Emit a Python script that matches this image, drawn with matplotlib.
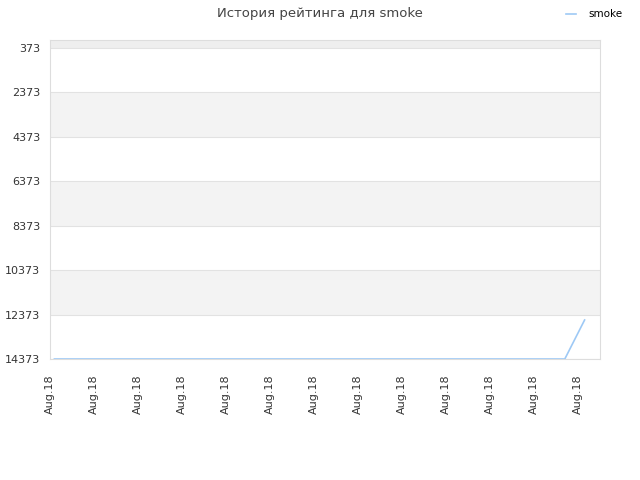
import matplotlib.pyplot as plt

# data
tick_labels = ["Aug.18"] * 13
rank_x = [0.1, 11.7, 12.15]
rank_y = [14373, 14373, 12617]
y_ticks = [373, 2373, 4373, 6373, 8373, 10373, 12373, 14373]

fig = plt.figure(figsize=(6.4, 4.8), dpi=100)
ax = fig.add_axes([50/640, 1-359/480, 550/640, 319/480])

y_top = 13
y_bot = 14373
ax.set_ylim(y_bot, y_top)
ax.set_xlim(0, 550/44)

# alternating bands
ax.axhspan(y_top, y_ticks[0], color="#eeeeee", lw=0, zorder=0)
for i in range(len(y_ticks) - 1):
    c = "#f3f3f3" if i % 2 == 1 else "white"
    ax.axhspan(y_ticks[i], y_ticks[i+1], color=c, lw=0, zorder=0)
for t in y_ticks:
    ax.axhline(t, color="#e2e2e2", lw=0.8, zorder=1)

ax.plot(rank_x, rank_y, color="#9ec9f5", lw=1.2, label="smoke", zorder=3)

ax.set_yticks(y_ticks)
ax.set_yticklabels([str(t) for t in y_ticks], fontsize=8, color="#333333")
ax.set_xticks(range(len(tick_labels)))
ax.set_xticklabels(tick_labels, rotation=90, fontsize=8, color="#333333")
ax.tick_params(axis="y", length=0, pad=7)
ax.tick_params(axis="x", length=0, pad=11)
for s in ax.spines.values():
    s.set_color("#dddddd")

fig.suptitle("История рейтинга для smoke", fontsize=9.5, color="#444444", y=0.985)
fig.legend(loc="upper right", bbox_to_anchor=(0.988, 1.0), frameon=False,
           fontsize=7.5, handlelength=1.0, handletextpad=1.2)

fig.savefig("out.png")
